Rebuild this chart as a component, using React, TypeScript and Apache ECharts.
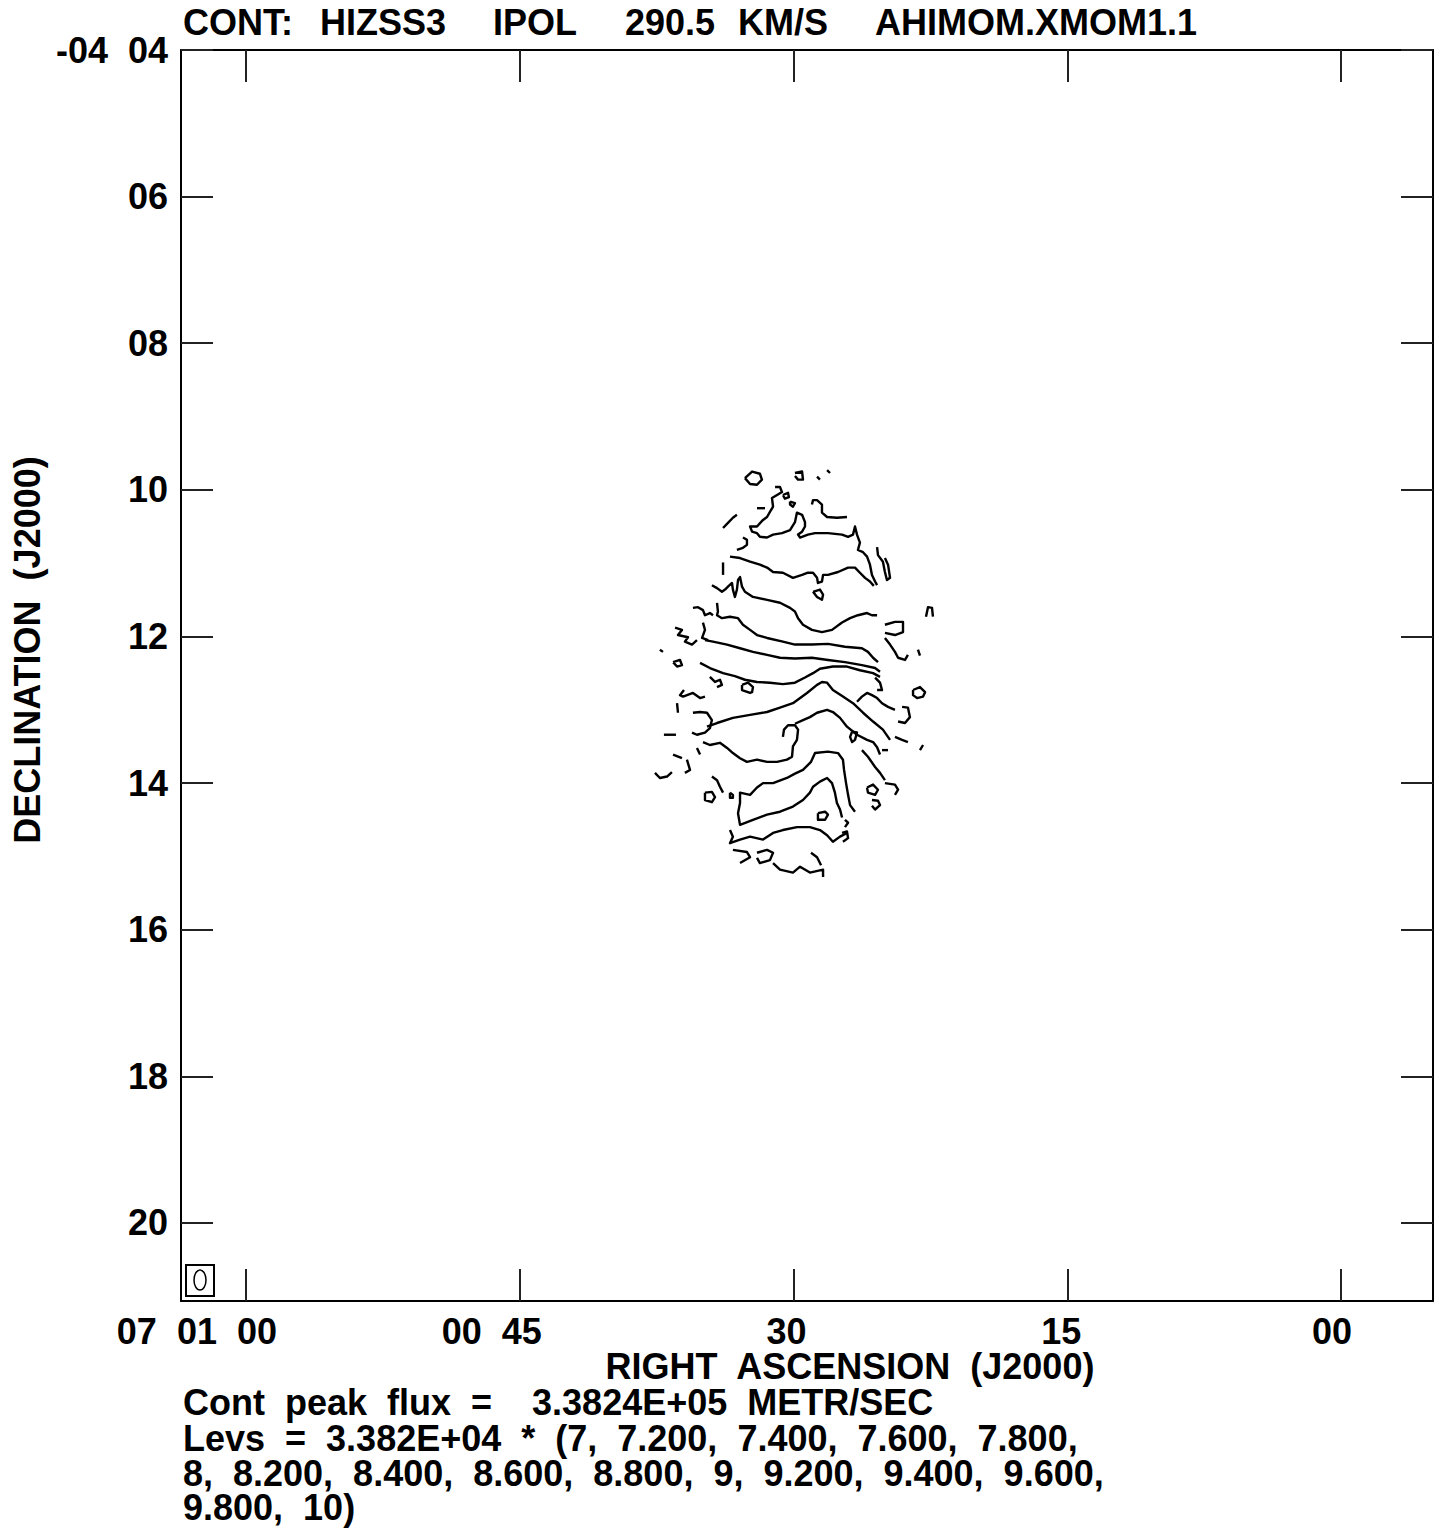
import React, { useEffect, useRef } from "react";
import * as echarts from "echarts";

// Axis extents: RA in seconds of time after 07h00m00s, Dec in arcmin south of -04d00m
const raMin = -5.04;
const raMax = 63.56;
const decMin = 4;
const decMax = 21.064;

const raTicks = [60, 45, 30, 15, 0];
const raLabels = ["07  01  00", "00  45", "30", "15", "00"];
const decTicks = [4, 6, 8, 10, 12, 14, 16, 18, 20];
const decLabels = ["-04  04", "06", "08", "10", "12", "14", "16", "18", "20"];

const titleWords = ["CONT:", "HIZSS3", "IPOL", "290.5", "KM/S", "AHIMOM.XMOM1.1"];
const xAxisTitle = "RIGHT  ASCENSION  (J2000)";
const yAxisTitle = "DECLINATION  (J2000)";
const footerLines = [
  "Cont  peak  flux  =    3.3824E+05  METR/SEC",
  "Levs  =  3.382E+04  *  (7,  7.200,  7.400,  7.600,  7.800,",
  "8,  8.200,  8.400,  8.600,  8.800,  9,  9.200,  9.400,  9.600,",
  "9.800,  10)",
];

// Contour polylines: [RA seconds, Dec arcmin]
const cTop = [[31.01, 9.96], [30.74, 9.96], [30.63, 10.03], [30.9, 10.07], [31.18, 10.11], [31.12, 10.23], [31.29, 10.3], [31.45, 10.37], [31.67, 10.41], [32.0, 10.5], [32.38, 10.5], [32.27, 10.57], [32.0, 10.59], [31.84, 10.64], [31.45, 10.65], [31.12, 10.61], [30.63, 10.59], [30.19, 10.55], [29.92, 10.44], [29.81, 10.31], [29.53, 10.34], [29.37, 10.44], [29.37, 10.5], [29.53, 10.57], [29.75, 10.61], [29.64, 10.65], [29.21, 10.61], [28.82, 10.59], [28.11, 10.59], [27.34, 10.61], [27.01, 10.64], [26.74, 10.61], [26.63, 10.5], [26.52, 10.61], [26.36, 10.72], [26.47, 10.82], [26.19, 10.85], [25.97, 10.91], [25.81, 11.02], [25.7, 11.16], [25.53, 11.25], [25.42, 11.3]];
const c2 = [[33.48, 10.91], [32.93, 10.93], [32.38, 10.98], [31.84, 11.02], [31.45, 11.06], [31.12, 11.12], [30.58, 11.13], [30.03, 11.2], [29.53, 11.16], [29.21, 11.13], [28.93, 11.13], [28.71, 11.2], [28.66, 11.27], [28.44, 11.25], [28.38, 11.16], [28.11, 11.16], [27.56, 11.12], [27.01, 11.06], [26.63, 11.06], [26.36, 11.13], [26.08, 11.2], [25.81, 11.25], [25.6, 11.31]];
const c3 = [[34.47, 11.3], [34.19, 11.34], [33.92, 11.39], [33.75, 11.36], [33.59, 11.32], [33.37, 11.27], [33.32, 11.36], [33.21, 11.46], [33.1, 11.36], [33.04, 11.23], [32.93, 11.19], [32.82, 11.32], [32.66, 11.39], [32.22, 11.46], [31.45, 11.5], [30.74, 11.54], [30.19, 11.61], [29.92, 11.66], [29.75, 11.75], [29.48, 11.84], [28.99, 11.91], [28.44, 11.94], [27.89, 11.91], [27.34, 11.81], [26.9, 11.75], [26.47, 11.71], [25.97, 11.68], [25.7, 11.71], [25.42, 11.71]];
const c4 = [[34.19, 11.54], [34.14, 11.66], [34.19, 11.71], [33.92, 11.75], [33.48, 11.73], [33.04, 11.75], [32.77, 11.84], [32.38, 11.91], [32.0, 11.98], [31.45, 12.02], [30.58, 12.07], [29.92, 12.11], [28.99, 12.11], [28.11, 12.1], [27.18, 12.14], [26.25, 12.16], [25.92, 12.21], [25.64, 12.29], [25.37, 12.35]];
const c5 = [[34.85, 12.05], [34.41, 12.07], [33.64, 12.11], [32.93, 12.16], [32.22, 12.21], [31.45, 12.25], [30.74, 12.29], [29.92, 12.3], [28.99, 12.29], [28.11, 12.32], [27.18, 12.35], [26.25, 12.39], [25.53, 12.43], [25.26, 12.48]];
const c6 = [[35.12, 12.36], [34.58, 12.43], [33.86, 12.5], [33.21, 12.54], [32.66, 12.59], [32.0, 12.62], [31.29, 12.63], [30.58, 12.65], [29.92, 12.63], [29.37, 12.56], [28.93, 12.5], [28.55, 12.44], [27.84, 12.41], [27.07, 12.41], [26.36, 12.46], [25.64, 12.5], [25.26, 12.55]];
const c7 = [[34.74, 13.23], [34.19, 13.18], [33.32, 13.11], [32.38, 13.07], [31.45, 13.03], [30.74, 12.97], [30.03, 12.91], [29.26, 12.77], [28.71, 12.66], [28.44, 12.62], [28.16, 12.63], [27.84, 12.73], [27.29, 12.82], [26.74, 12.91], [26.19, 13.04], [25.64, 13.16], [25.1, 13.27], [24.71, 13.41]];
const c8a = [[34.96, 13.44], [34.58, 13.48], [34.03, 13.45], [33.64, 13.52], [33.32, 13.59], [32.93, 13.66], [32.55, 13.71], [32.0, 13.68], [31.45, 13.71], [30.9, 13.71], [30.36, 13.68], [30.08, 13.64], [30.03, 13.5], [29.81, 13.41], [29.75, 13.27], [29.92, 13.21], [30.3, 13.21], [30.52, 13.27], [30.58, 13.37]];
const c8b = [[29.92, 13.19], [29.48, 13.14], [29.1, 13.1], [28.71, 13.04], [28.16, 13.0], [27.84, 13.03], [27.45, 13.11], [27.07, 13.23], [26.52, 13.34], [25.97, 13.41], [25.64, 13.44], [25.42, 13.51], [25.26, 13.61]];
const c9 = [[26.63, 14.39], [26.9, 14.3], [27.01, 14.16], [27.12, 14.0], [27.23, 13.82], [27.29, 13.68], [27.56, 13.59], [28.11, 13.57], [28.82, 13.59], [29.04, 13.71], [29.48, 13.82], [29.92, 13.87], [30.36, 13.93], [31.12, 14.0], [31.67, 14.0], [32.0, 14.06], [32.38, 14.16], [32.93, 14.13], [32.93, 14.27], [33.04, 14.41], [32.93, 14.57], [32.22, 14.5], [31.45, 14.43], [30.74, 14.39], [30.03, 14.32], [29.48, 14.23], [29.1, 14.13], [28.93, 14.05], [28.55, 13.98], [28.16, 13.93], [27.89, 14.0], [27.73, 14.13], [27.62, 14.27], [27.45, 14.36], [27.34, 14.47]];
const c11 = [[33.48, 14.64], [33.32, 14.73], [33.48, 14.82], [32.93, 14.77], [32.38, 14.73], [31.67, 14.77], [31.12, 14.68], [30.58, 14.64], [29.81, 14.6], [29.1, 14.6], [28.55, 14.64], [28.16, 14.71], [27.84, 14.8], [27.45, 14.73], [27.07, 14.68]];
const cB1 = [[33.32, 14.91], [32.55, 14.94], [32.38, 15.01], [32.93, 15.09]];
const cB2 = [[32.0, 14.95], [31.45, 14.91], [31.12, 14.95], [31.29, 15.05], [31.84, 15.09], [32.0, 15.02]];
const cB3 = [[31.12, 15.09], [30.74, 15.18], [30.03, 15.22], [29.64, 15.14], [29.1, 15.22], [28.38, 15.18], [28.38, 15.28]];
const cB4 = [[29.04, 14.95], [28.71, 15.01], [28.49, 15.12]];
const cLoopA = [[28.93, 11.39], [28.55, 11.36], [28.38, 11.43], [28.44, 11.5], [28.71, 11.46], [28.93, 11.39]];
const cLeft1 = [[35.51, 11.61], [35.23, 11.6], [34.96, 11.64], [34.85, 11.71], [34.58, 11.68], [34.41, 11.71]];
const cStar = [[36.49, 11.88], [36.11, 11.91], [36.33, 11.98], [35.78, 12.01], [35.95, 12.07], [35.56, 12.11], [35.29, 12.05]];
const cLeft2 = [[34.96, 11.81], [34.85, 11.91], [35.01, 12.02], [34.68, 12.05]];
const cLoopB = [[32.82, 12.66], [32.49, 12.63], [32.22, 12.69], [32.27, 12.76], [32.38, 12.77], [32.82, 12.73], [32.82, 12.66]];
const cLeft3 = [[34.58, 12.55], [34.3, 12.62], [34.03, 12.59], [33.92, 12.66], [34.19, 12.69]];
const cLeft4 = [[36.0, 12.73], [36.22, 12.8], [36.05, 12.82], [35.51, 12.77], [35.12, 12.84], [34.85, 12.82]];
const cLeft5 = [[36.38, 12.91], [36.33, 13.04]];
const cSemi = [[35.51, 13.04], [35.12, 13.03], [34.74, 13.04], [34.47, 13.14], [34.58, 13.25], [34.85, 13.31], [35.29, 13.34], [35.56, 13.31]];
const cDots = [[37.1, 13.34], [36.44, 13.34]];
const cLeft6 = [[37.59, 13.86], [37.32, 13.93], [36.93, 13.91], [36.66, 13.85]];
const cLeft7 = [[36.6, 13.61], [36.11, 13.66]];
const cLeft8 = [[35.84, 13.68], [35.67, 13.82], [35.95, 13.86]];
const cLeft9 = [[35.29, 13.52], [35.12, 13.61]];
const cCircL = [[34.85, 14.13], [34.47, 14.12], [34.3, 14.19], [34.47, 14.26], [34.85, 14.23], [34.85, 14.13]];
const cLeft10 = [[34.47, 13.91], [34.19, 13.96], [34.03, 14.05], [33.86, 14.13]];
const cLeft11 = [[33.48, 14.13], [33.32, 14.16], [33.32, 14.2], [33.48, 14.2], [33.48, 14.13]];
const cLeft12 = [[37.32, 12.18], [37.15, 12.21]];
const cLeft13 = [[36.6, 12.35], [36.22, 12.32], [36.11, 12.39], [36.38, 12.41], [36.6, 12.35]];
const cT1 = [[32.66, 9.84], [32.27, 9.75], [31.84, 9.78], [31.73, 9.86], [32.0, 9.93], [32.38, 9.92], [32.66, 9.84]];
const cT2 = [[29.92, 9.77], [29.53, 9.75], [29.48, 9.86], [29.75, 9.86], [29.92, 9.81]];
const cT3 = [[28.71, 9.82], [28.55, 9.86]];
const cT4 = [[28.16, 9.73], [28.0, 9.77]];
const cT5 = [[32.0, 10.25], [31.56, 10.25]];
const cT6 = [[30.58, 10.07], [30.3, 10.04], [30.25, 10.1], [30.47, 10.12], [30.58, 10.07]];
const cT7 = [[30.19, 10.16], [29.92, 10.18], [30.03, 10.23], [30.19, 10.2], [30.19, 10.16]];
const cT8 = [[33.86, 10.52], [33.59, 10.45], [33.32, 10.38], [33.1, 10.34]];
const cT9 = [[32.77, 10.65], [32.55, 10.68], [32.55, 10.75], [32.77, 10.79], [33.1, 10.82]];
const cT10 = [[33.86, 10.99], [33.86, 11.16]];
const cT11 = [[28.99, 10.2], [28.93, 10.14], [28.71, 10.14], [28.44, 10.2], [28.44, 10.31], [28.16, 10.37], [27.62, 10.38], [27.07, 10.37]];
const cT12 = [[25.42, 10.78], [25.37, 10.89], [25.1, 10.98], [24.99, 11.12], [24.88, 11.23], [24.71, 11.2], [24.82, 11.02], [24.99, 10.93]];
const cR1 = [[24.99, 11.84], [24.44, 11.8], [24.0, 11.8], [24.0, 11.94], [24.44, 11.98], [24.99, 11.95]];
const cR2 = [[24.99, 12.02], [24.71, 12.11], [24.44, 12.21], [24.27, 12.29], [23.89, 12.32], [23.73, 12.25]];
const cR3 = [[22.74, 11.73], [22.63, 11.6], [22.41, 11.61], [22.36, 11.73]];
const cR4 = [[23.18, 12.18], [23.07, 12.26]];
const cR5 = [[23.45, 12.73], [23.07, 12.69], [22.79, 12.76], [22.9, 12.82], [23.23, 12.84], [23.45, 12.8], [23.45, 12.73]];
const cR6 = [[24.05, 12.96], [23.73, 12.97], [23.62, 13.1], [23.89, 13.18], [24.27, 13.16]];
const cR7 = [[26.52, 12.89], [26.25, 12.82], [25.97, 12.77], [25.7, 12.8], [25.42, 12.84], [25.15, 12.91], [24.82, 12.96], [24.44, 13.0]];
const cR8 = [[25.53, 12.56], [25.26, 12.63], [25.15, 12.73], [25.42, 12.73]];
const cR9 = [[26.79, 13.3], [26.52, 13.31], [26.63, 13.41], [26.79, 13.44], [26.9, 13.37], [26.79, 13.3]];
const cR10 = [[24.44, 13.37], [24.05, 13.41], [23.73, 13.44]];
const cR11 = [[25.15, 13.55], [24.82, 13.55]];
const cR12 = [[23.07, 13.55], [22.9, 13.48]];
const cR13 = [[25.97, 14.06], [25.64, 14.02], [25.37, 14.09], [25.53, 14.16], [25.92, 14.13], [25.97, 14.06]];
const cR14 = [[25.7, 14.23], [25.37, 14.24], [25.26, 14.3], [25.53, 14.36], [25.7, 14.31]];
const cR15 = [[24.99, 14.0], [24.44, 14.02], [24.27, 14.09], [24.44, 14.16]];
const cR16 = [[26.25, 13.55], [25.92, 13.64], [25.53, 13.78], [25.26, 13.86], [24.99, 13.96]];
const cR17 = [[28.66, 14.41], [28.27, 14.39], [28.11, 14.43], [28.27, 14.5], [28.66, 14.5], [28.66, 14.41]];
const cR18 = [[27.18, 14.5], [27.01, 14.54], [27.18, 14.6]];
const cR19 = [[27.34, 14.68], [27.07, 14.66], [27.01, 14.75], [27.29, 14.8]];

const contours = [
  cTop, c2, c3, c4, c5, c6, c7, c8a, c8b, c9, c11, cB1, cB2, cB3, cB4, cLoopA,
  cLeft1, cStar, cLeft2, cLoopB, cLeft3, cLeft4, cLeft5, cSemi, cDots, cLeft6,
  cLeft7, cLeft8, cLeft9, cCircL, cLeft10, cLeft11, cLeft12, cLeft13,
  cT1, cT2, cT3, cT4, cT5, cT6, cT7, cT8, cT9, cT10, cT11, cT12,
  cR1, cR2, cR3, cR4, cR5, cR6, cR7, cR8, cR9, cR10, cR11, cR12, cR13, cR14,
  cR15, cR16, cR17, cR18, cR19,
];

const FONT = '"Liberation Sans", Arial, sans-serif';
const font = (s: number) => `bold ${s}px ${FONT}`;
// right-edge offset of each RA tick label from its tick (layout, px)
const raLabelShift = [31, 22, 13, 14, 11];

export default function App() {
  const ref = useRef<HTMLDivElement>(null);
  useEffect(() => {
    if (!ref.current) return;
    const chart = echarts.init(ref.current, undefined, { renderer: "svg" });
    const tickStyle = { color: "#222", width: 2 };
    const lineStyle = { color: "#000", width: 2 };
    const xBase = {
      type: "value" as const,
      min: raMin,
      max: raMax,
      inverse: true,
      splitLine: { show: false },
      axisLine: { show: true, onZero: false, lineStyle },
      axisTick: { show: true, inside: true, length: 32, customValues: raTicks, lineStyle: tickStyle },
      axisLabel: { show: false },
    };
    const yBase = {
      type: "value" as const,
      min: decMin,
      max: decMax,
      inverse: true,
      splitLine: { show: false },
      axisLine: { show: true, onZero: false, lineStyle },
      axisTick: { show: true, inside: true, length: 32, customValues: decTicks, lineStyle: tickStyle },
    };
    chart.setOption({
      animation: false,
      backgroundColor: "#fff",
      grid: { left: 181, top: 50, width: 1252, height: 1251, containLabel: false },
      xAxis: [
        { ...xBase, position: "bottom" },
        { ...xBase, position: "top" },
      ],
      yAxis: [
        {
          ...yBase,
          position: "left",
          axisLabel: {
            show: true,
            customValues: decTicks,
            margin: 13,
            color: "#000",
            fontSize: 36,
            fontWeight: "bold",
            fontFamily: FONT,
            formatter: (v: number) => decLabels[decTicks.indexOf(Math.round(v))] ?? "",
          },
        },
        { ...yBase, position: "right", axisLabel: { show: false } },
      ],
      series: [
        {
          type: "lines",
          coordinateSystem: "cartesian2d",
          xAxisIndex: 0,
          yAxisIndex: 0,
          polyline: true,
          silent: true,
          lineStyle: { color: "#000", width: 2.4, opacity: 1, join: "round" },
          data: contours.map((c) => ({ coords: c })),
        },
      ],
    });

    const xLabelEls = raTicks.map((v, i) => {
      const px = chart.convertToPixel({ xAxisIndex: 0 }, v) as number;
      return {
        type: "text",
        x: px + raLabelShift[i],
        y: 1331,
        style: { text: raLabels[i], fill: "#000", font: font(36), textAlign: "right", textVerticalAlign: "middle" },
      };
    });
    const titleX = [183, 320, 493, 625, 738, 875];
    const footerY = [1402, 1438, 1473, 1507];
    const graphic: any[] = [
      ...xLabelEls,
      ...titleWords.map((w, i) => ({
        type: "text",
        x: titleX[i],
        y: 22,
        style: { text: w, fill: "#000", font: font(36), textAlign: "left", textVerticalAlign: "middle" },
      })),
      {
        type: "text",
        x: 850,
        y: 1366,
        style: { text: xAxisTitle, fill: "#000", font: font(36), textAlign: "center", textVerticalAlign: "middle" },
      },
      {
        type: "text",
        x: 27,
        y: 650,
        rotation: Math.PI / 2,
        style: { text: yAxisTitle, fill: "#000", font: font(36), textAlign: "center", textVerticalAlign: "middle" },
      },
      ...footerLines.map((t, i) => ({
        type: "text",
        x: 183,
        y: footerY[i],
        style: { text: t, fill: "#000", font: font(36), textAlign: "left", textVerticalAlign: "middle" },
      })),
      {
        type: "rect",
        shape: { x: 186, y: 1265, width: 28, height: 31 },
        style: { fill: "none", stroke: "#000", lineWidth: 2 },
      },
      {
        type: "ellipse",
        shape: { cx: 200, cy: 1280, rx: 6, ry: 10 },
        style: { fill: "none", stroke: "#000", lineWidth: 1.5 },
      },
    ];
    chart.setOption({ graphic });
    return () => chart.dispose();
  }, []);
  return (
    <div
      ref={ref}
      style={{ position: "absolute", left: 0, top: 0, width: 1441, height: 1529, background: "#fff" }}
    />
  );
}
